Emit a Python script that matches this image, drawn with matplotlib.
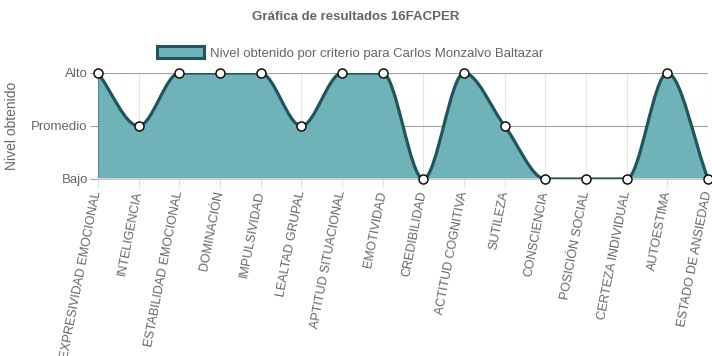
import numpy as np
import matplotlib
matplotlib.use("Agg")
import matplotlib.pyplot as plt
from matplotlib.path import Path
from matplotlib.patches import PathPatch, Patch

plt.rcParams['font.family'] = ['Liberation Sans', 'DejaVu Sans']

title = "Gráfica de resultados 16FACPER"
series_label = "Nivel obtenido por criterio para Carlos Monzalvo Baltazar"
criterios = ["EXPRESIVIDAD EMOCIONAL", "INTELIGENCIA", "ESTABILIDAD EMOCIONAL",
             "DOMINACIÓN", "IMPULSIVIDAD", "LEALTAD GRUPAL", "APTITUD SITUACIONAL",
             "EMOTIVIDAD", "CREDIBILIDAD", "ACTITUD COGNITIVA", "SUTILEZA",
             "CONSCIENCIA", "POSICIÓN SOCIAL", "CERTEZA INDIVIDUAL", "AUTOESTIMA",
             "ESTADO DE ANSIEDAD"]
niveles = ["Bajo", "Promedio", "Alto"]
# 1 = Bajo, 2 = Promedio, 3 = Alto
valores = [3, 2, 3, 3, 3, 2, 3, 3, 1, 3, 2, 1, 1, 1, 3, 1]

fill_c = '#6fb2b7'
line_c = '#1f565d'
text_c = '#666666'
fs = 9.5


def monotone_path(x, y):
    # same control points as Chart.js cubicInterpolationMode 'monotone'
    x = np.asarray(x, float)
    y = np.asarray(y, float)
    n = len(x)
    dk = np.diff(y) / np.diff(x)
    mk = np.zeros(n)
    for i in range(n):
        if i == 0:
            mk[i] = dk[0]
        elif i == n - 1:
            mk[i] = dk[-1]
        elif np.sign(dk[i - 1]) != np.sign(dk[i]):
            mk[i] = 0
        else:
            mk[i] = (dk[i - 1] + dk[i]) / 2
    for i in range(n - 1):
        if dk[i] == 0:
            mk[i] = mk[i + 1] = 0
            continue
        a = mk[i] / dk[i]
        b = mk[i + 1] / dk[i]
        tau = a * a + b * b
        if tau > 9:
            t = 3 / np.sqrt(tau)
            mk[i] = a * t * dk[i]
            mk[i + 1] = b * t * dk[i]
    verts = [(x[0], y[0])]
    codes = [Path.MOVETO]
    for i in range(n - 1):
        d = (x[i + 1] - x[i]) / 3
        verts += [(x[i] + d, y[i] + mk[i] * d),
                  (x[i + 1] - d, y[i + 1] - mk[i + 1] * d),
                  (x[i + 1], y[i + 1])]
        codes += [Path.CURVE4] * 3
    return verts, codes


xs = np.arange(len(criterios))

fig = plt.figure(figsize=(7.12, 3.56), dpi=100)
ax = fig.add_axes([98 / 712, 1 - 179 / 356, 610 / 712, 106 / 356])

verts, codes = monotone_path(xs, valores)
fill_verts = verts + [(xs[-1], 1), (xs[0], 1), (xs[0], valores[0])]
fill_codes = codes + [Path.LINETO, Path.LINETO, Path.CLOSEPOLY]
ax.add_patch(PathPatch(Path(fill_verts, fill_codes), facecolor=fill_c,
                       edgecolor='none', zorder=2))
ax.add_patch(PathPatch(Path(verts, codes), facecolor='none', edgecolor=line_c,
                       lw=2.3, zorder=3, capstyle='round', joinstyle='round'))
ax.plot(xs, valores, ls='none', marker='o', ms=6.5, mfc='white', mec='#111111',
        mew=1.1, zorder=4, clip_on=False)

ax.set_xlim(0, len(criterios) - 1)
ax.set_ylim(1, 3)
ax.set_yticks([1, 2, 3])
ax.set_yticklabels(niveles)
ax.set_xticks(xs)
ax.set_xticklabels(criterios, rotation=79, ha='right', va='center',
                   rotation_mode='anchor')

for s in ['top', 'right']:
    ax.spines[s].set_visible(False)
ax.spines['left'].set_color('#4f8d92')
ax.spines['left'].set_linewidth(0.8)
ax.spines['left'].set_zorder(2.5)
ax.spines['bottom'].set_color('#cccccc')
ax.spines['bottom'].set_linewidth(1.5)

ax.grid(axis='y', color='#a0a0a0', lw=0.8, zorder=1)
ax.grid(axis='x', color='#e6e6e6', lw=0.8, zorder=1)
ax.set_axisbelow(True)
ax.tick_params(axis='y', length=5.8, width=0.8, color='#a0a0a0', pad=1.5,
               labelsize=fs, labelcolor=text_c)
ax.tick_params(axis='x', length=5.8, width=0.8, color='#e0e0e0', pad=3,
               labelsize=9, labelcolor=text_c)

fig.text(12 / 712, 1 - 126 / 356, "Nivel obtenido", rotation=90, ha='center',
         va='center', fontsize=10, color=text_c)
fig.text(0.5, 1 - 17 / 356, title, ha='center', va='center', fontsize=fs,
         fontweight='bold', color=text_c)

handle = Patch(facecolor=fill_c, edgecolor=line_c, lw=2.2)
fig.legend([handle], [series_label], loc='center',
           bbox_to_anchor=(350 / 712, 1 - 53 / 356), frameon=False,
           fontsize=fs, labelcolor=text_c, handlelength=3.6, handleheight=1.0,
           handletextpad=0.4, borderpad=0)

fig.savefig("out.png", dpi=100)
